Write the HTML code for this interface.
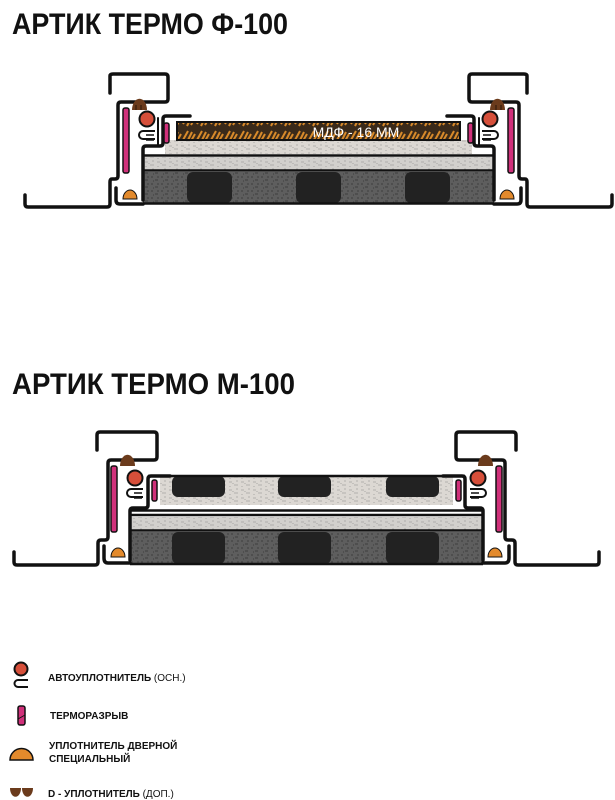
<!DOCTYPE html>
<html><head><meta charset="utf-8"><style>
html,body{margin:0;padding:0;background:#fff;width:615px;height:800px;overflow:hidden}
svg{display:block}
</style></head><body>
<svg width="615" height="800" viewBox="0 0 615 800" xmlns="http://www.w3.org/2000/svg">
<defs>
<pattern id="spk" width="12" height="8" patternUnits="userSpaceOnUse">
<path d="M1 2h3M6 5h4M2 6v1M8 1h2M5 3v1" stroke="#888" stroke-width="0.6"/>
</pattern>
<pattern id="spkd" width="10" height="7" patternUnits="userSpaceOnUse">
<path d="M1 2h2M5 5h3M8 1v2M3 6h1" stroke="#333" stroke-width="0.7"/>
</pattern>
<pattern id="mdf" width="14" height="16" patternUnits="userSpaceOnUse">
<rect width="14" height="16" fill="#3a2a1a"/>
<path d="M1 12L6 3M5 14L10 4M9 13L13 6" stroke="#d88a2a" stroke-width="2"/>
</pattern>
<g id="sealsTop">
<path d="M132,110 a4,6 0 0 1 15,0 z" fill="#6b3b1c"/>
<path d="M136,110 v-5 M141,110 v-5" stroke="#2a1408" stroke-width="1"/>
<circle cx="147" cy="119" r="7.5" fill="#d64f3a" stroke="#111" stroke-width="2"/>
<path d="M155,131 h-12 a4,4 0 0 0 0,8 h12" fill="none" stroke="#111" stroke-width="2"/>
<path d="M146,135 h8 M146,140 h8" stroke="#111" stroke-width="1.5"/>
<rect x="123" y="108" width="6" height="65" rx="2" fill="#d0307a" stroke="#111" stroke-width="1.5"/>
<rect x="164" y="123" width="5" height="20" rx="2" fill="#d0307a" stroke="#111" stroke-width="1.5"/>
<path d="M123,199 a7,9 0 0 1 14,0 z" fill="#e38a2c" stroke="#111" stroke-width="1"/>
</g>
<g id="halfTop" fill="none" stroke="#111" stroke-width="3.5" stroke-linecap="round" stroke-linejoin="round">
<path d="M110,93 V76 Q110,74 113,74 H165 Q168,74 168,77 V99 Q168,102 165,102 H121 Q118,102 118,105 V176 Q118,179 115,179 H112 Q110,179 110,182 V204 Q110,207 107,207 H28 Q25,207 25,204 V195"/>
<path d="M190,116 H166 Q163,116 163,119 V143 Q163,146 160,146 H146 Q143,146 143,149 V200"/>
<path d="M116,188 V200 Q116,204 120,204 H143"/>
<path d="M158,118 V145" stroke-width="2"/>
</g>
<g id="sealsBot">
<path d="M120,466 a4,6 0 0 1 15,0 z" fill="#6b3b1c"/>
<circle cx="135" cy="478" r="7.5" fill="#d64f3a" stroke="#111" stroke-width="2"/>
<path d="M143,489 h-12 a4,4 0 0 0 0,8 h12" fill="none" stroke="#111" stroke-width="2"/>
<path d="M134,493 h8 M134,498 h8" stroke="#111" stroke-width="1.5"/>
<rect x="111" y="466" width="6" height="66" rx="2" fill="#d0307a" stroke="#111" stroke-width="1.5"/>
<rect x="152" y="480" width="5" height="21" rx="2" fill="#d0307a" stroke="#111" stroke-width="1.5"/>
<path d="M111,557 a7,9 0 0 1 14,0 z" fill="#e38a2c" stroke="#111" stroke-width="1"/>
</g>
<g id="halfBot" fill="none" stroke="#111" stroke-width="3.5" stroke-linecap="round" stroke-linejoin="round">
<path d="M97,450 V435 Q97,432 100,432 H154 Q157,432 157,435 V457 Q157,460 154,460 H111 Q108,460 108,463 V537 Q108,540 105,540 H101 Q98,540 98,543 V562 Q98,565 95,565 H17 Q14,565 14,562 V552"/>
<path d="M170,476 H151 Q148,476 148,479 V505 Q148,508 145,508 H133 Q130,508 130,511 V560"/>
<path d="M104,546 V558 Q104,563 108,563 H130"/>
</g>
</defs>

<text x="12" y="34" font-family="Liberation Sans, sans-serif" font-weight="bold" font-size="30" textLength="276" lengthAdjust="spacingAndGlyphs" fill="#111">АРТИК ТЕРМО Ф-100</text>
<text x="12" y="394" font-family="Liberation Sans, sans-serif" font-weight="bold" font-size="30" textLength="283" lengthAdjust="spacingAndGlyphs" fill="#111">АРТИК ТЕРМО М-100</text>

<!-- TOP PANEL -->
<rect x="143" y="172" width="351" height="31" fill="#5e5e5e"/>
<rect x="143" y="172" width="351" height="31" fill="url(#spkd)"/>
<rect x="187" y="172" width="45" height="31" rx="6" fill="#222"/>
<rect x="296" y="172" width="45" height="31" rx="6" fill="#222"/>
<rect x="405" y="172" width="45" height="31" rx="6" fill="#222"/>
<rect x="143" y="157" width="351" height="13" fill="#d2d0cd"/>
<rect x="143" y="157" width="351" height="13" fill="url(#spk)"/>
<rect x="165" y="140" width="307" height="14" fill="#dcd8d3"/>
<rect x="165" y="140" width="307" height="14" fill="url(#spk)"/>
<path d="M143,155.5 H494 M143,170.5 H494 M143,203.5 H494" stroke="#111" stroke-width="2.5"/>
<rect x="177" y="122" width="283" height="18" fill="url(#mdf)" stroke="#111" stroke-width="2"/>
<text x="356" y="137" font-family="Liberation Sans, sans-serif" font-size="14" fill="#fff" text-anchor="middle">МДФ - 16 ММ</text>
<use href="#halfTop"/>
<use href="#sealsTop"/>
<use href="#halfTop" transform="translate(637,0) scale(-1,1)"/>
<use href="#sealsTop" transform="translate(637,0) scale(-1,1)"/>

<!-- BOTTOM PANEL -->
<rect x="130" y="532" width="353" height="32" fill="#5e5e5e"/>
<rect x="130" y="532" width="353" height="32" fill="url(#spkd)"/>
<rect x="172" y="532" width="53" height="32" rx="6" fill="#222"/>
<rect x="278" y="532" width="53" height="32" rx="6" fill="#222"/>
<rect x="386" y="532" width="53" height="32" rx="6" fill="#222"/>
<rect x="130" y="517" width="353" height="13" fill="#d2d0cd"/>
<rect x="130" y="517" width="353" height="13" fill="url(#spk)"/>
<rect x="160" y="476" width="293" height="29" fill="#dcd8d3"/>
<rect x="160" y="476" width="293" height="29" fill="url(#spk)"/>
<rect x="172" y="476" width="53" height="21" rx="6" fill="#222"/>
<rect x="278" y="476" width="53" height="21" rx="6" fill="#222"/>
<rect x="386" y="476" width="53" height="21" rx="6" fill="#222"/>
<path d="M148,476 H465 M130,510.5 H483 M130,515 H483 M130,530.5 H483 M130,564 H483" stroke="#111" stroke-width="2.5"/>
<use href="#halfBot"/>
<use href="#sealsBot"/>
<use href="#halfBot" transform="translate(613,0) scale(-1,1)"/>
<use href="#sealsBot" transform="translate(613,0) scale(-1,1)"/>

<!-- LEGEND -->
<circle cx="21" cy="669" r="6.5" fill="#d64f3a" stroke="#111" stroke-width="2"/>
<path d="M28,680 h-10 a3.5,3.5 0 0 0 0,7 h10" fill="none" stroke="#111" stroke-width="2"/>
<text x="48" y="681" font-family="Liberation Sans, sans-serif" font-size="10" fill="#111"><tspan font-weight="bold">АВТОУПЛОТНИТЕЛЬ</tspan> (ОСН.)</text>
<rect x="18" y="706" width="7" height="19" rx="2" fill="#d0307a" stroke="#111" stroke-width="1.5"/>
<path d="M18,719 l7,-4" stroke="#111" stroke-width="1"/>
<text x="50" y="719" font-family="Liberation Sans, sans-serif" font-size="10" font-weight="bold" fill="#111">ТЕРМОРАЗРЫВ</text>
<path d="M10,760 a11,11 0 0 1 23,0 z" fill="#e38a2c" stroke="#111" stroke-width="1.5"/>
<text x="49" y="749" font-family="Liberation Sans, sans-serif" font-size="10" font-weight="bold" fill="#111">УПЛОТНИТЕЛЬ ДВЕРНОЙ</text>
<text x="49" y="762" font-family="Liberation Sans, sans-serif" font-size="10" font-weight="bold" fill="#111">СПЕЦИАЛЬНЫЙ</text>
<path d="M10,788 h11 a5,8 0 0 1 -11,0 z M22,788 h11 a5,8 0 0 1 -11,0 z" fill="#6b3b1c"/>
<text x="48" y="797" font-family="Liberation Sans, sans-serif" font-size="10" fill="#111"><tspan font-weight="bold">D - УПЛОТНИТЕЛЬ</tspan> (ДОП.)</text>
</svg>
</body></html>
